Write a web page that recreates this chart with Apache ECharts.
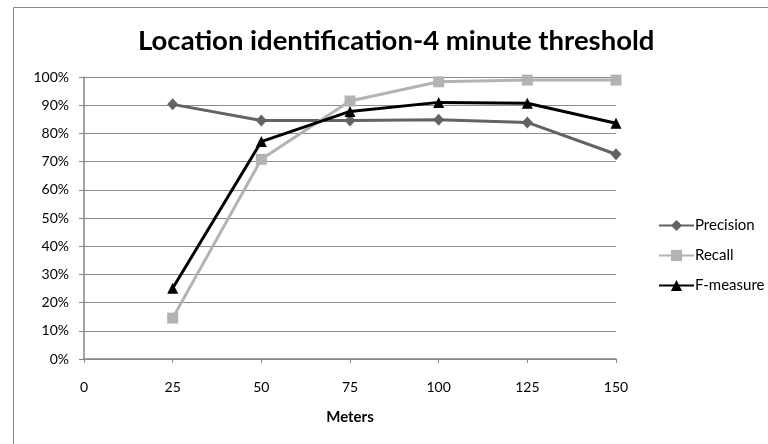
<!DOCTYPE html>
<html>
<head>
<meta charset="utf-8">
<script src="https://cdn.jsdelivr.net/npm/echarts@6/dist/echarts.min.js"></script>
<style>
html,body{margin:0;padding:0;background:#fff;}
#chart{width:768px;height:444px;}
</style>
</head>
<body>
<div id="chart"></div>
<script>
const meters = [25, 50, 75, 100, 125, 150];
const precision = [90.3, 84.6, 84.6, 84.8, 83.9, 72.6];
const recall = [14.5, 70.8, 91.5, 98.3, 98.9, 98.9];
const fmeasure = [25.1, 77.1, 87.8, 91.0, 90.7, 83.6];
const seriesNames = ['Precision', 'Recall', 'F-measure'];
const titleText = 'Location identification-4 minute threshold';
const xAxisName = 'Meters';

const pair = arr => arr.map((v, i) => [meters[i], v]);
const FONT = 'Lato, "Open Sans", sans-serif';

const chart = echarts.init(document.getElementById('chart'), null, {renderer: 'canvas'});
chart.setOption({
  animation: false,
  backgroundColor: '#fff',
  textStyle: {fontFamily: FONT},
  graphic: [{
    type: 'rect', silent: true, z: -1,
    shape: {x: 13.5, y: 7.5, width: 800, height: 500},
    style: {fill: 'none', stroke: '#878787', lineWidth: 1}
  }],
  title: {
    text: titleText, left: 133, top: 22,
    textStyle: {fontFamily: FONT, fontWeight: 'bold', fontSize: 27.5, color: '#000'}
  },
  legend: {
    orient: 'vertical', left: 653, top: 213,
    itemWidth: 35, itemHeight: 14, itemGap: 15,
    textStyle: {fontFamily: FONT, fontSize: 15, lineHeight: 14, color: '#000', padding: [0,0,0,-4]},
    data: seriesNames
  },
  grid: {left: 84, right: 152, top: 77, bottom: 85, containLabel: false},
  xAxis: {
    type: 'value', min: 0, max: 150, interval: 25,
    name: xAxisName, nameLocation: 'middle', nameGap: 51,
    nameTextStyle: {fontFamily: FONT, fontWeight: 'bold', fontSize: 15, color: '#000'},
    axisLine: {show: true, lineStyle: {color: '#868686', width: 1.5}},
    axisTick: {show: true, length: 4, lineStyle: {color: '#868686'}},
    axisLabel: {margin: 21, fontFamily: FONT, fontSize: 14, color: '#000'},
    splitLine: {show: false}
  },
  yAxis: {
    type: 'value', min: 0, max: 100, interval: 10,
    axisLine: {show: true, lineStyle: {color: '#868686', width: 1.5}},
    axisTick: {show: true, length: 5, lineStyle: {color: '#868686'}},
    axisLabel: {margin: 15, formatter: '{value}%', fontFamily: FONT, fontSize: 14, color: '#000'},
    splitLine: {show: true, lineStyle: {color: '#8c8c8c', width: 1}}
  },
  series: [
    {name: seriesNames[0], type: 'line', data: pair(precision),
     symbol: 'diamond', symbolSize: [11, 12],
     lineStyle: {color: '#636363', width: 3}, itemStyle: {color: '#636363'}},
    {name: seriesNames[1], type: 'line', data: pair(recall),
     symbol: 'rect', symbolSize: 11,
     lineStyle: {color: '#b3b3b3', width: 3}, itemStyle: {color: '#b3b3b3'}},
    {name: seriesNames[2], type: 'line', data: pair(fmeasure),
     symbol: 'triangle', symbolSize: 11,
     lineStyle: {color: '#000', width: 3}, itemStyle: {color: '#000'}}
  ]
});
</script>
</body>
</html>
